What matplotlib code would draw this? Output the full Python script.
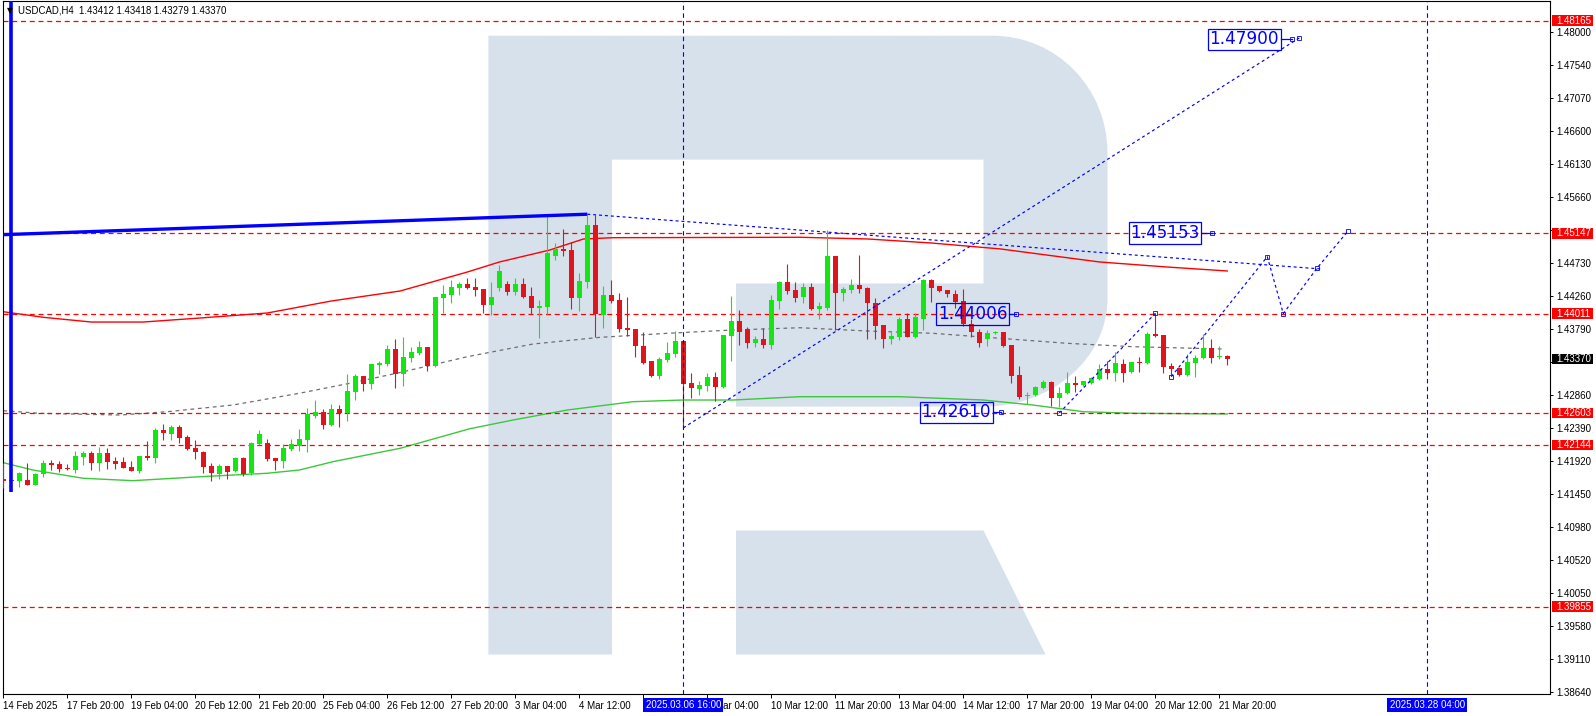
import numpy as np
import matplotlib.pyplot as plt
import matplotlib.transforms as mtransforms
from matplotlib.patches import Rectangle, Polygon, PathPatch
from matplotlib.path import Path

# USDCAD H4 candles, bar 0 = 14 Feb 2025 12:00
opens = [1.41667, 1.41640, 1.41630, 1.41648, 1.41582, 1.41729, 1.41894, 1.41875, 1.41819, 1.41790,
         1.41975, 1.42027, 1.41894, 1.42027, 1.41918, 1.41904, 1.41828, 1.41781, 1.41989, 1.41965,
         1.42358, 1.42306, 1.42401, 1.42259, 1.42103, 1.42046, 1.41847, 1.41738, 1.41847, 1.41776,
         1.41961, 1.41752, 1.42164, 1.42173, 1.41956, 1.41923, 1.42088, 1.42136, 1.42216, 1.42561,
         1.42613, 1.42424, 1.42656, 1.42594, 1.42897, 1.43124, 1.43011, 1.43280, 1.43294, 1.43507,
         1.43158, 1.43385, 1.43451, 1.43536, 1.43266, 1.44236, 1.44274, 1.44378, 1.44430, 1.44383,
         1.44359, 1.44137, 1.44378, 1.44430, 1.44321, 1.44430, 1.44255, 1.44094, 1.44104, 1.44832,
         1.44927, 1.44912, 1.44236, 1.44463, 1.45267, 1.43985, 1.44274, 1.44203, 1.43806, 1.43792,
         1.43555, 1.43337, 1.43129, 1.43356, 1.43441, 1.43621, 1.43025, 1.42940, 1.42987, 1.43110,
         1.42969, 1.43697, 1.43905, 1.43792, 1.43598, 1.43650, 1.43569, 1.44189, 1.44463, 1.44345,
         1.44241, 1.44383, 1.44071, 1.44085, 1.44827, 1.44298, 1.44345, 1.44411, 1.44373, 1.44156,
         1.43848, 1.43645, 1.43678, 1.43938, 1.43678, 1.43938, 1.44487, 1.44402, 1.44345, 1.44288,
         1.44189, 1.43862, 1.43749, 1.43645, 1.43730, 1.43749, 1.43564, 1.43134, 1.42841, 1.42855,
         1.42959, 1.43039, 1.42808, 1.42879, 1.43025, 1.42992, 1.43030, 1.43082, 1.43219, 1.43162,
         1.43295, 1.43177, 1.43323, 1.43309, 1.43720, 1.43706, 1.43262, 1.43233, 1.43139, 1.43309,
         1.43375, 1.43527, 1.43399, 1.43412]
highs = [1.41885, 1.41680, 1.41757, 1.41894, 1.41743, 1.41932, 1.41932, 1.41923, 1.41875, 1.42065,
         1.42065, 1.42065, 1.42112, 1.42098, 1.41970, 1.41970, 1.41923, 1.41992, 1.42202, 1.42391,
         1.42448, 1.42424, 1.42434, 1.42282, 1.42216, 1.42065, 1.41885, 1.41875, 1.41850, 1.41970,
         1.41970, 1.42192, 1.42358, 1.42230, 1.41960, 1.42159, 1.42230, 1.42367, 1.42665, 1.42784,
         1.42656, 1.42727, 1.42713, 1.43153, 1.43148, 1.43128, 1.43302, 1.43332, 1.43564, 1.43645,
         1.43683, 1.43541, 1.43621, 1.43540, 1.44250, 1.44411, 1.44487, 1.44454, 1.44510, 1.44510,
         1.44362, 1.44463, 1.44695, 1.44468, 1.44510, 1.44510, 1.44383, 1.44203, 1.45395, 1.45017,
         1.45210, 1.45031, 1.44581, 1.45409, 1.45409, 1.44402, 1.44487, 1.44298, 1.44250, 1.43795,
         1.43754, 1.43340, 1.43399, 1.43612, 1.43768, 1.43625, 1.43167, 1.43054, 1.43162, 1.43186,
         1.43710, 1.44260, 1.44061, 1.43825, 1.43697, 1.43810, 1.44274, 1.44466, 1.44714, 1.44463,
         1.44449, 1.44449, 1.44179, 1.45196, 1.44830, 1.44383, 1.44496, 1.44842, 1.44383, 1.44227,
         1.43850, 1.43754, 1.43967, 1.44014, 1.44023, 1.44496, 1.44501, 1.44405, 1.44348, 1.44345,
         1.44354, 1.43929, 1.43787, 1.43777, 1.43768, 1.43752, 1.43567, 1.43266, 1.42902, 1.42983,
         1.43068, 1.43054, 1.42973, 1.43177, 1.43125, 1.43058, 1.43115, 1.43295, 1.43333, 1.43470,
         1.43361, 1.43328, 1.43399, 1.43754, 1.44014, 1.43710, 1.43304, 1.43243, 1.43432, 1.43422,
         1.43716, 1.43645, 1.43550, 1.43418]
lows = [1.41530, 1.41600, 1.41554, 1.41580, 1.41580, 1.41696, 1.41790, 1.41767, 1.41790, 1.41752,
        1.41861, 1.41790, 1.41781, 1.41809, 1.41809, 1.41815, 1.41778, 1.41743, 1.41932, 1.41894,
        1.42216, 1.42221, 1.42173, 1.42074, 1.41946, 1.41752, 1.41639, 1.41658, 1.41667, 1.41762,
        1.41705, 1.41724, 1.42150, 1.41918, 1.41790, 1.41819, 1.42060, 1.42060, 1.42046, 1.42528,
        1.42377, 1.42419, 1.42401, 1.42486, 1.42784, 1.42916, 1.42940, 1.43153, 1.43271, 1.42959,
        1.42987, 1.43323, 1.43418, 1.43200, 1.43247, 1.44014, 1.44165, 1.44274, 1.44364, 1.44265,
        1.44014, 1.43990, 1.44335, 1.44274, 1.44274, 1.44236, 1.43999, 1.43668, 1.43999, 1.44771,
        1.44832, 1.44075, 1.44047, 1.44378, 1.43683, 1.43810, 1.44165, 1.43749, 1.43692, 1.43399,
        1.43290, 1.43115, 1.43077, 1.43328, 1.43399, 1.42390, 1.42817, 1.42855, 1.42912, 1.42770,
        1.42950, 1.43337, 1.43564, 1.43527, 1.43541, 1.43527, 1.43512, 1.44075, 1.44293, 1.44175,
        1.44156, 1.44061, 1.43929, 1.44061, 1.43777, 1.44194, 1.44298, 1.44307, 1.43645, 1.43645,
        1.43517, 1.43579, 1.43635, 1.43673, 1.43664, 1.43777, 1.44179, 1.44321, 1.44250, 1.44094,
        1.43834, 1.43673, 1.43541, 1.43550, 1.43716, 1.43531, 1.43030, 1.42794, 1.42727, 1.42841,
        1.42935, 1.42699, 1.42680, 1.42864, 1.42902, 1.42983, 1.43011, 1.43068, 1.43077, 1.43054,
        1.43044, 1.43162, 1.43186, 1.43295, 1.43673, 1.43162, 1.43139, 1.43129, 1.43125, 1.43115,
        1.43361, 1.43304, 1.43361, 1.43279]
closes = [1.41630, 1.41635, 1.41752, 1.41582, 1.41738, 1.41885, 1.41861, 1.41809, 1.41800, 1.41989,
          1.42036, 1.41894, 1.42027, 1.41909, 1.41880, 1.41819, 1.41781, 1.41989, 1.41956, 1.42358,
          1.42320, 1.42401, 1.42249, 1.42084, 1.42046, 1.41828, 1.41752, 1.41847, 1.41762, 1.41961,
          1.41734, 1.42173, 1.42301, 1.41946, 1.41923, 1.42103, 1.42159, 1.42230, 1.42590, 1.42613,
          1.42434, 1.42656, 1.42594, 1.42911, 1.43124, 1.43011, 1.43299, 1.43309, 1.43507, 1.43157,
          1.43394, 1.43465, 1.43536, 1.43266, 1.44241, 1.44288, 1.44383, 1.44430, 1.44373, 1.44345,
          1.44137, 1.44250, 1.44615, 1.44321, 1.44430, 1.44250, 1.44094, 1.44113, 1.44870, 1.44927,
          1.44903, 1.44236, 1.44473, 1.45267, 1.43999, 1.44274, 1.44194, 1.43796, 1.43777, 1.43555,
          1.43304, 1.43129, 1.43366, 1.43451, 1.43621, 1.43016, 1.42959, 1.42997, 1.43110, 1.42969,
          1.43706, 1.43905, 1.43754, 1.43598, 1.43650, 1.43569, 1.44203, 1.44463, 1.44335, 1.44236,
          1.44383, 1.44075, 1.44118, 1.44827, 1.44307, 1.44359, 1.44411, 1.44364, 1.44156, 1.43834,
          1.43645, 1.43692, 1.43938, 1.43683, 1.43967, 1.44487, 1.44378, 1.44335, 1.44283, 1.44170,
          1.43862, 1.43754, 1.43598, 1.43730, 1.43740, 1.43550, 1.43129, 1.42831, 1.42855, 1.42964,
          1.43039, 1.42808, 1.42879, 1.43020, 1.42992, 1.43049, 1.43091, 1.43219, 1.43162, 1.43304,
          1.43172, 1.43318, 1.43314, 1.43716, 1.43692, 1.43257, 1.43219, 1.43139, 1.43318, 1.43380,
          1.43527, 1.43385, 1.43413, 1.43370]

# band lines (upper red, middle grey, lower green), knots at bar index
upper_x = [0, 5, 11, 17.5, 24.6, 33, 41, 49.6, 58, 62, 68.3, 72.5, 76.2, 99.6, 108, 116, 124.6, 137, 145.5, 153]
upper_y = [1.44037, 1.43958, 1.43891, 1.43891, 1.43948, 1.44019, 1.44189, 1.44331, 1.44600, 1.44742,
           1.44912, 1.45068, 1.45087, 1.45093, 1.45069, 1.45012, 1.44928, 1.44743, 1.44671, 1.44615]
mid_x = [0, 4.6, 14.6, 20.5, 28.7, 37, 43.3, 49.6, 58, 66.2, 74.6, 83, 91.2, 99.6, 108, 116.2, 124.6, 133, 141.2, 152.5]
mid_y = [1.42633, 1.42596, 1.42572, 1.42619, 1.42714, 1.42880, 1.43022, 1.43175, 1.43399, 1.43579,
         1.43674, 1.43731, 1.43778, 1.43810, 1.43764, 1.43731, 1.43660, 1.43589, 1.43541, 1.43508]
lower_x = [0, 3.7, 10, 16.2, 24.6, 33, 37, 41.2, 49.6, 58.3, 63.7, 70.5, 78.7, 85, 91.2, 99.6, 112, 122.5, 128.7, 135, 141.2, 153]
lower_y = [1.41896, 1.41792, 1.41675, 1.41641, 1.41697, 1.41746, 1.41792, 1.41910, 1.42100, 1.42377, 1.42501,
           1.42643, 1.42761, 1.42785, 1.42785, 1.42832, 1.42832, 1.42785, 1.42714, 1.42619, 1.42597, 1.42587]

# drawn objects
levels = [1.48165, 1.45147, 1.44011, 1.42603, 1.42144, 1.39855]
last_price = 1.43370
thick_trend = ([0, 73], [1.45130, 1.45420])
thick_vline_bar, thick_vline_low = 1, 1.41476
vlines_bars = [85, 178]
vline_labels = ["2025.03.06 16:00", "2025.03.28 04:00"]
fc_diag = ([85, 162], [1.42390, 1.47920])
fc_trend = ([73, 164.8], [1.45420, 1.44643])
fc_zig1 = ([132, 144], [1.42601, 1.44014])
fc_zig2 = ([146, 158, 160, 164.2, 168.1], [1.43116, 1.44818, 1.44011, 1.44653, 1.45182])
targets = [1.47900, 1.45153, 1.44006, 1.42610]
target_bar = [155.1, 145.2, 121.15, 119.1]
target_tail = [161.05, 151.05, 126.6, 124.7]

price_ticks = [1.48000, 1.47540, 1.47070, 1.46600, 1.46130, 1.45660, 1.45190, 1.44730, 1.44260, 1.43790,
               1.43330, 1.42860, 1.42390, 1.41920, 1.41450, 1.40980, 1.40520, 1.40050, 1.39580, 1.39110, 1.38640]
hidden_ticks = [1.45190, 1.43330]
time_bars = list(range(0, 153, 8))
# "5 Mar 20:00" sits fully under the highlighted date box, as on the original
time_labels = ["14 Feb 2025", "17 Feb 20:00", "19 Feb 04:00", "20 Feb 12:00", "21 Feb 20:00",
               "25 Feb 04:00", "26 Feb 12:00", "27 Feb 20:00", "3 Mar 04:00", "4 Mar 12:00",
               "", "7 Mar 04:00", "10 Mar 12:00", "11 Mar 20:00", "13 Mar 04:00",
               "14 Mar 12:00", "17 Mar 20:00", "19 Mar 04:00", "20 Mar 12:00", "21 Mar 20:00"]

plt.rcParams["font.family"] = ["Liberation Sans", "DejaVu Sans"]
tick_fs = 7.0
big_fs = 12.2

W, H = 1596, 716
fig = plt.figure(figsize=(W / 100, H / 100), dpi=100, facecolor="white")

# watermark logo, in figure pixels
bg = fig.add_axes([0, 0, 1, 1], zorder=0)
bg.set_xlim(0, W)
bg.set_ylim(H, 0)
bg.axis("off")
logo = "#d7e1ec"
verts = [(488.4, 35.7), (992.5, 35.7), (1056.7, 35.7), (1107.5, 88.2), (1107.5, 153),
         (1107.5, 298.5), (1107.5, 358.2), (1052, 406.6), (983, 406.6), (736, 406.6),
         (736, 283.5), (983.5, 283.5), (983.5, 159.6), (612, 159.6), (612, 654.5),
         (488.4, 654.5), (488.4, 35.7)]
codes = [Path.MOVETO, Path.LINETO, Path.CURVE4, Path.CURVE4, Path.CURVE4, Path.LINETO,
         Path.CURVE4, Path.CURVE4, Path.CURVE4, Path.LINETO, Path.LINETO, Path.LINETO,
         Path.LINETO, Path.LINETO, Path.LINETO, Path.LINETO, Path.CLOSEPOLY]
bg.add_patch(PathPatch(Path(verts, codes), fc=logo, ec="none"))
bg.add_patch(Polygon([(736, 530.5), (983.5, 530.5), (1045.5, 654.5), (736, 654.5)], fc=logo, ec="none"))

ax = fig.add_axes([3 / W, (H - 694.3) / H, 1547 / W, 693.3 / H], zorder=1)
ax.set_facecolor("none")
ax.set_xlim(-0.0375, 193.34)
ax.set_ylim(1.386112, 1.484439)
ytop = 1.484439

o = np.array(opens); h = np.array(highs); l = np.array(lows); c = np.array(closes)
x = np.arange(len(o))
up = c >= o
col = np.where(up, "#14e614", "#e0141c")
ax.vlines(x, l, h, colors=col, lw=0.8, zorder=3)
body_lo = np.minimum(o, c)
body_h = np.maximum(np.abs(c - o), 0.00015)
ax.bar(x, body_h, width=0.625, bottom=body_lo, color=col, lw=0, zorder=4)

ax.plot(upper_x, upper_y, color="#ff0000", lw=1.0, zorder=2)
ax.plot(mid_x, mid_y, color="#6e6e6e", lw=0.9, ls=(0, (3, 3)), zorder=2)
ax.plot(lower_x, lower_y, color="#3cc83c", lw=1.0, zorder=2)

for lv in levels:
    ax.axhline(lv, color="#ff0000", lw=0.9, ls=(0, (4, 3)), zorder=2)
for vb in vlines_bars:
    ax.axvline(vb, color="#0000ff", lw=0.8, ls=(0, (4, 3)), zorder=5)

blue = "#0000ff"
ax.plot(*thick_trend, color=blue, lw=2.4, solid_capstyle="butt", zorder=6)
ax.vlines(thick_vline_bar, thick_vline_low, ytop, colors=blue, lw=2.6, zorder=6)
for seg in (fc_diag, fc_trend, fc_zig1, fc_zig2):
    ax.plot(*seg, color=blue, lw=0.85, ls=(0, (2.5, 2.5)), zorder=6)
for seg in (fc_zig1, fc_zig2):
    ax.plot(*seg, ls="none", marker="s", ms=3, mfc="none", mec=blue, mew=0.6, zorder=6)
ax.plot(fc_diag[0][1], fc_diag[1][1], ls="none", marker="s", ms=3, mfc="none", mec=blue, mew=0.6, zorder=6)

for lv, tb, tt in zip(targets, target_bar, target_tail):
    ax.text(tb, lv, f"{lv:.5f}", ha="center", va="center", color=blue, fontsize=big_fs, zorder=7,
            family="DejaVu Sans", bbox=dict(boxstyle="square,pad=0.1", fc="none", ec=blue, lw=0.9))
    ax.plot([tb + 4.6, tt], [lv, lv], color=blue, lw=0.9, zorder=7)
    ax.plot(tt, lv, ls="none", marker="s", ms=2.5, mfc="none", mec=blue, mew=0.6, zorder=7)

# price axis on the right
ax.yaxis.tick_right()
ax.set_yticks(price_ticks)
ax.set_yticklabels(["" if t in hidden_ticks else f"{t:.5f}" for t in price_ticks])
ax.tick_params(axis="y", direction="out", length=2.2, width=0.7, pad=2.6, labelsize=tick_fs)
ax.set_xticks(time_bars)
ax.set_xticklabels(time_labels, ha="left")
ax.tick_params(axis="x", direction="out", length=3, width=0.7, pad=1.5, labelsize=tick_fs)
for sp in ax.spines.values():
    sp.set_color("black")
    sp.set_linewidth(0.8)

ytrans = mtransforms.blended_transform_factory(ax.transAxes, ax.transData)
for lv, fcol in [(v, "#ff0000") for v in levels] + [(last_price, "black")]:
    ax.add_patch(Rectangle((1.0013, lv - 0.00074), 0.0268, 0.00148, transform=ytrans,
                           fc=fcol, ec="none", clip_on=False, zorder=8))
    ax.text(1.0040, lv, f"{lv:.5f}", transform=ytrans, color="white", ha="left", va="center",
            fontsize=tick_fs, clip_on=False, zorder=9)

xtrans = mtransforms.blended_transform_factory(ax.transData, ax.transAxes)
for vb, lab in zip(vlines_bars, vline_labels):
    ax.text(vb, -0.0155, lab, transform=xtrans, ha="center", va="center", color="white",
            fontsize=tick_fs, clip_on=False, zorder=9,
            bbox=dict(boxstyle="square,pad=0.25", fc=blue, ec="none"))

fig.text(18.3 / W, 1 - 10.7 / H, "USDCAD,H4  1.43412 1.43418 1.43279 1.43370", ha="left", va="center",
         fontsize=6.9)
fig.text(10 / W, 1 - 10.5 / H, "\u25bc", ha="center", va="center", fontsize=5.5, family="DejaVu Sans")

fig.savefig("out.png", dpi=100)
